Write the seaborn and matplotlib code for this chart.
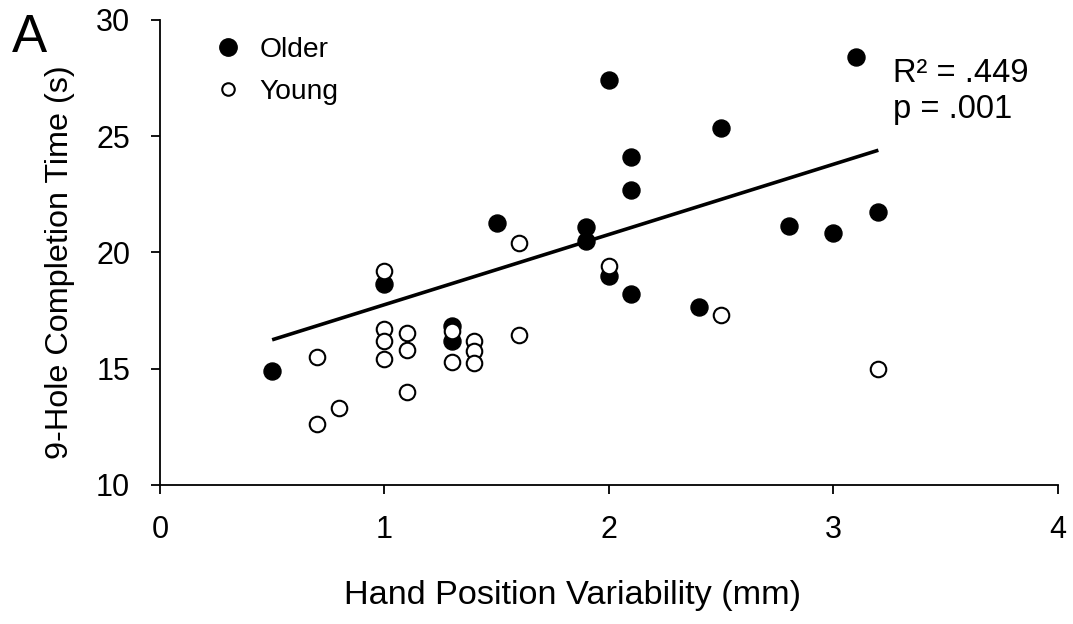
import numpy as np
import pandas as pd
import matplotlib
matplotlib.use("Agg")
import matplotlib.pyplot as plt
from matplotlib.lines import Line2D
import seaborn as sns

older_x = [0.5, 1.0, 1.3, 1.3, 1.5, 1.9, 1.9, 2.0, 2.0, 2.1, 2.1, 2.1, 2.4, 2.5, 2.8, 3.0, 3.1, 3.2]
older_y = [14.9, 18.65, 16.85, 16.2, 21.25, 21.1, 20.5, 27.4, 19.0, 24.1, 22.7, 18.2, 17.65, 25.35, 21.15, 20.85, 28.4, 21.75]
young_x = [0.7, 0.7, 0.8, 1.0, 1.0, 1.0, 1.0, 1.1, 1.1, 1.1, 1.3, 1.3, 1.4, 1.4, 1.4, 1.6, 1.6, 2.0, 2.5, 3.2]
young_y = [15.5, 12.6, 13.3, 19.2, 16.7, 16.2, 15.4, 16.55, 15.8, 14.0, 16.6, 15.3, 16.2, 15.75, 15.25, 20.4, 16.45, 19.4, 17.3, 15.0]
groups = ["Older", "Young"]
xticks = [0, 1, 2, 3, 4]
yticks = [10, 15, 20, 25, 30]
stats_lines = ["R\u00b2 = .449", "p = .001"]

older = pd.DataFrame({"x": older_x, "y": older_y})
young = pd.DataFrame({"x": young_x, "y": young_y})

sns.set_style("white")
plt.rcParams["font.family"] = ["Liberation Sans", "DejaVu Sans"]
plt.rcParams["text.color"] = "black"
plt.rcParams["axes.labelcolor"] = "black"
plt.rcParams["xtick.color"] = "black"
plt.rcParams["ytick.color"] = "black"

fig = plt.figure(figsize=(10.73, 6.24), dpi=100)
ax = fig.add_axes([0.149, 0.223, 0.837, 0.745])

# regression on the older group (R^2 = .449)
sns.regplot(data=older, x="x", y="y", scatter=False, ci=None, truncate=True,
            line_kws=dict(color="black", lw=2.6, solid_capstyle="butt"), ax=ax)

sns.scatterplot(data=older, x="x", y="y", color="black", edgecolor="black",
                s=150, linewidth=1.0, ax=ax, zorder=3)
sns.scatterplot(data=young, x="x", y="y", color="white", edgecolor="black",
                s=125, linewidth=1.5, ax=ax, zorder=4)

ax.set_xlim(0, 4)
ax.set_ylim(10, 30)
ax.set_xticks(xticks)
ax.set_yticks(yticks)
ax.tick_params(axis="both", direction="out", length=6.5, width=1.3, labelsize=22,
               left=True, bottom=True, colors="black", pad=15)
for s in ["top", "right"]:
    ax.spines[s].set_visible(False)
for s in ["left", "bottom"]:
    ax.spines[s].set_color("black")
    ax.spines[s].set_linewidth(1.3)

ax.set_xlabel("Hand Position Variability (mm)", fontsize=24.7, va="top")
ax.xaxis.set_label_coords(0.459, -0.205)
ax.set_ylabel("9-Hole Completion Time (s)", fontsize=23.3)
ax.yaxis.set_label_coords(-0.095, 0.478)

handles = [
    Line2D([], [], marker="o", ls="", mfc="black", mec="black", ms=12.5),
    Line2D([], [], marker="o", ls="", mfc="white", mec="black", ms=9, mew=1.5),
]
ax.legend(handles, groups, loc="upper left", bbox_to_anchor=(0.04, 1.0),
          frameon=False, fontsize=20.3, handletextpad=0.55, labelspacing=0.58,
          handlelength=1.1, borderaxespad=0.2)

ax.text(3.265, 27.35, stats_lines[0], fontsize=23.5, ha="left", va="baseline")
ax.text(3.265, 25.77, stats_lines[1], fontsize=23.5, ha="left", va="baseline")
fig.text(0.0112, 0.9167, "A", fontsize=38, ha="left", va="baseline")

fig.savefig("out.png", dpi=100)
